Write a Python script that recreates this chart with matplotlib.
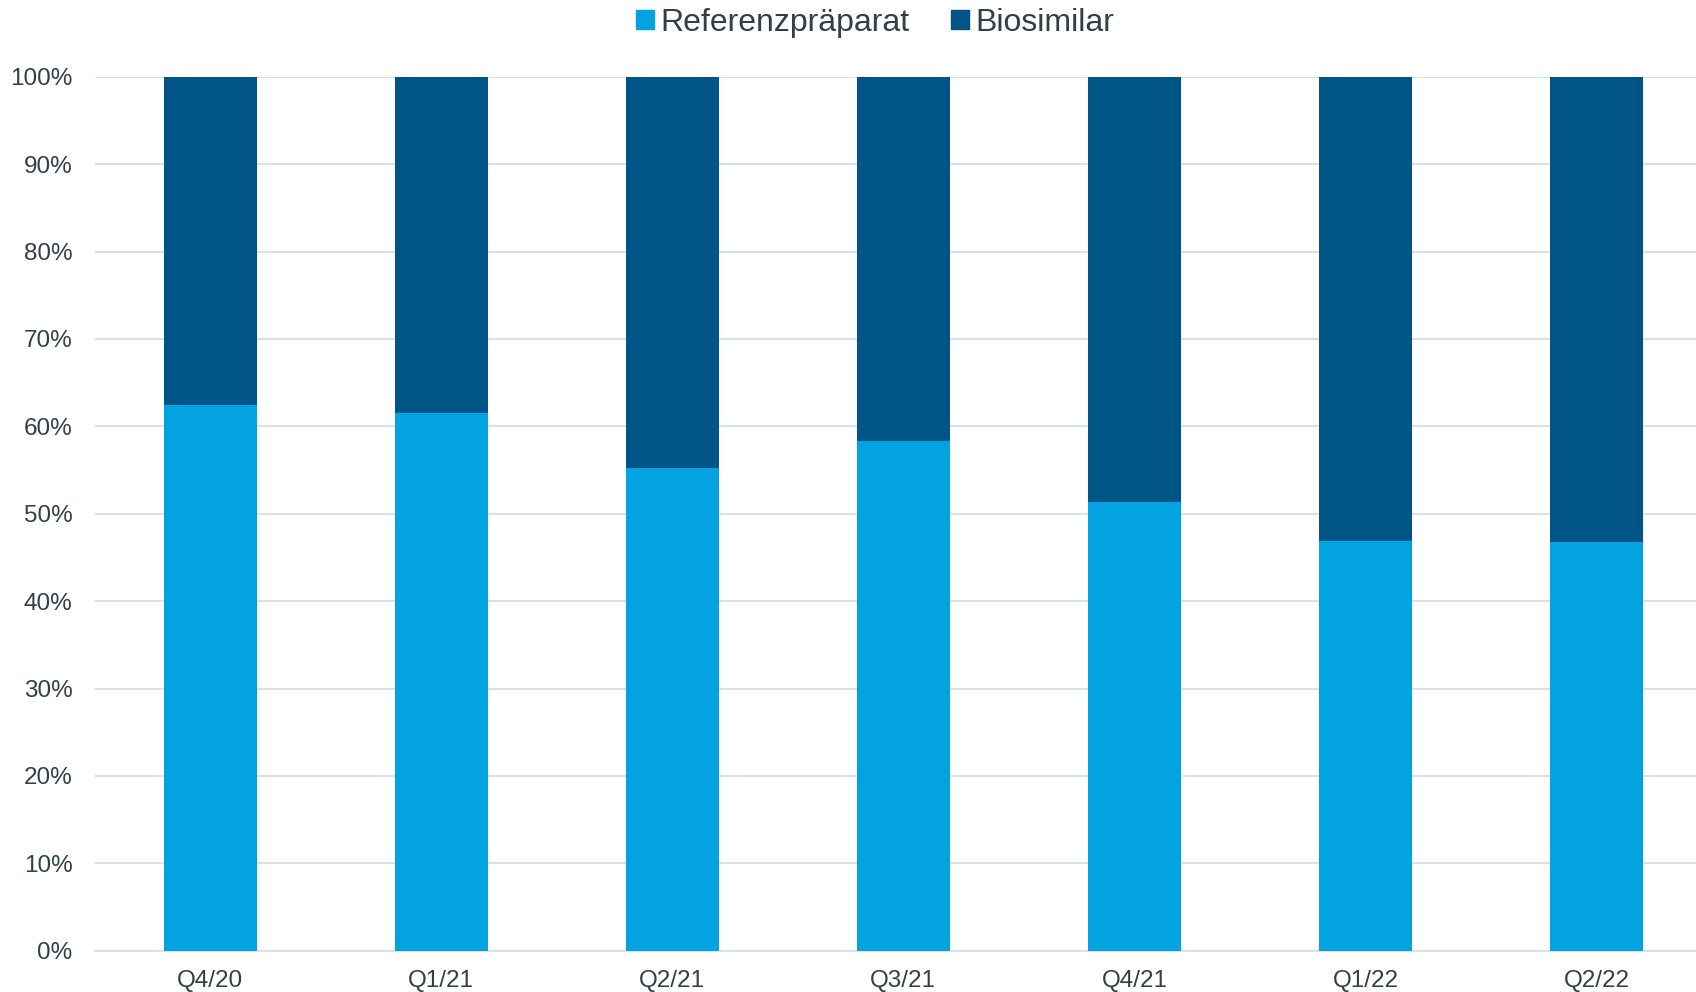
import numpy as np
import matplotlib.pyplot as plt
from matplotlib.patches import Patch
from matplotlib.ticker import PercentFormatter

# Anteile je Quartal (in %)
quartale = ['Q4/20', 'Q1/21', 'Q2/21', 'Q3/21', 'Q4/21', 'Q1/22', 'Q2/22']
referenz = [62.4, 61.5, 55.2, 58.3, 51.4, 46.9, 46.8]
biosimilar = [100 - v for v in referenz]

hell = '#02A3E0'
dunkel = '#005587'
text_farbe = '#333F48'
gitter = '#D9E1E7'

plt.rcParams['font.family'] = ['Liberation Sans', 'DejaVu Sans']

fig = plt.figure(figsize=(16.96, 9.92), dpi=100)
ax = fig.add_axes([0.0559, 0.0416, 0.9535, 0.881])

x = np.arange(len(quartale))
ax.bar(x, referenz, width=0.4, color=hell, zorder=3)
ax.bar(x, biosimilar, width=0.4, bottom=referenz, color=dunkel, zorder=3)

ax.set_xlim(-0.5, len(quartale) - 0.5)
ax.set_ylim(0, 100)
ax.set_yticks(np.arange(0, 101, 10))
ax.yaxis.set_major_formatter(PercentFormatter(decimals=0))
ax.set_xticks(x)
ax.set_xticklabels(quartale)

ax.grid(axis='y', color=gitter, linewidth=1.5, zorder=0)
for s in ['top', 'right', 'left']:
    ax.spines[s].set_visible(False)
ax.spines['bottom'].set_color(gitter)
ax.spines['bottom'].set_linewidth(1.5)
ax.tick_params(axis='both', length=0, labelsize=17.5, colors=text_farbe)
ax.tick_params(axis='y', pad=16)
ax.tick_params(axis='x', pad=14)

handles = [Patch(color=hell, label='Referenzpräparat'),
           Patch(color=dunkel, label='Biosimilar')]
fig.legend(handles=handles, loc='center', bbox_to_anchor=(0.516, 0.977),
           ncol=2, frameon=False, fontsize=23, labelcolor=text_farbe,
           handlelength=0.55, handleheight=0.55, handletextpad=0.2,
           columnspacing=1.3)

fig.savefig('out.png', dpi=100)
